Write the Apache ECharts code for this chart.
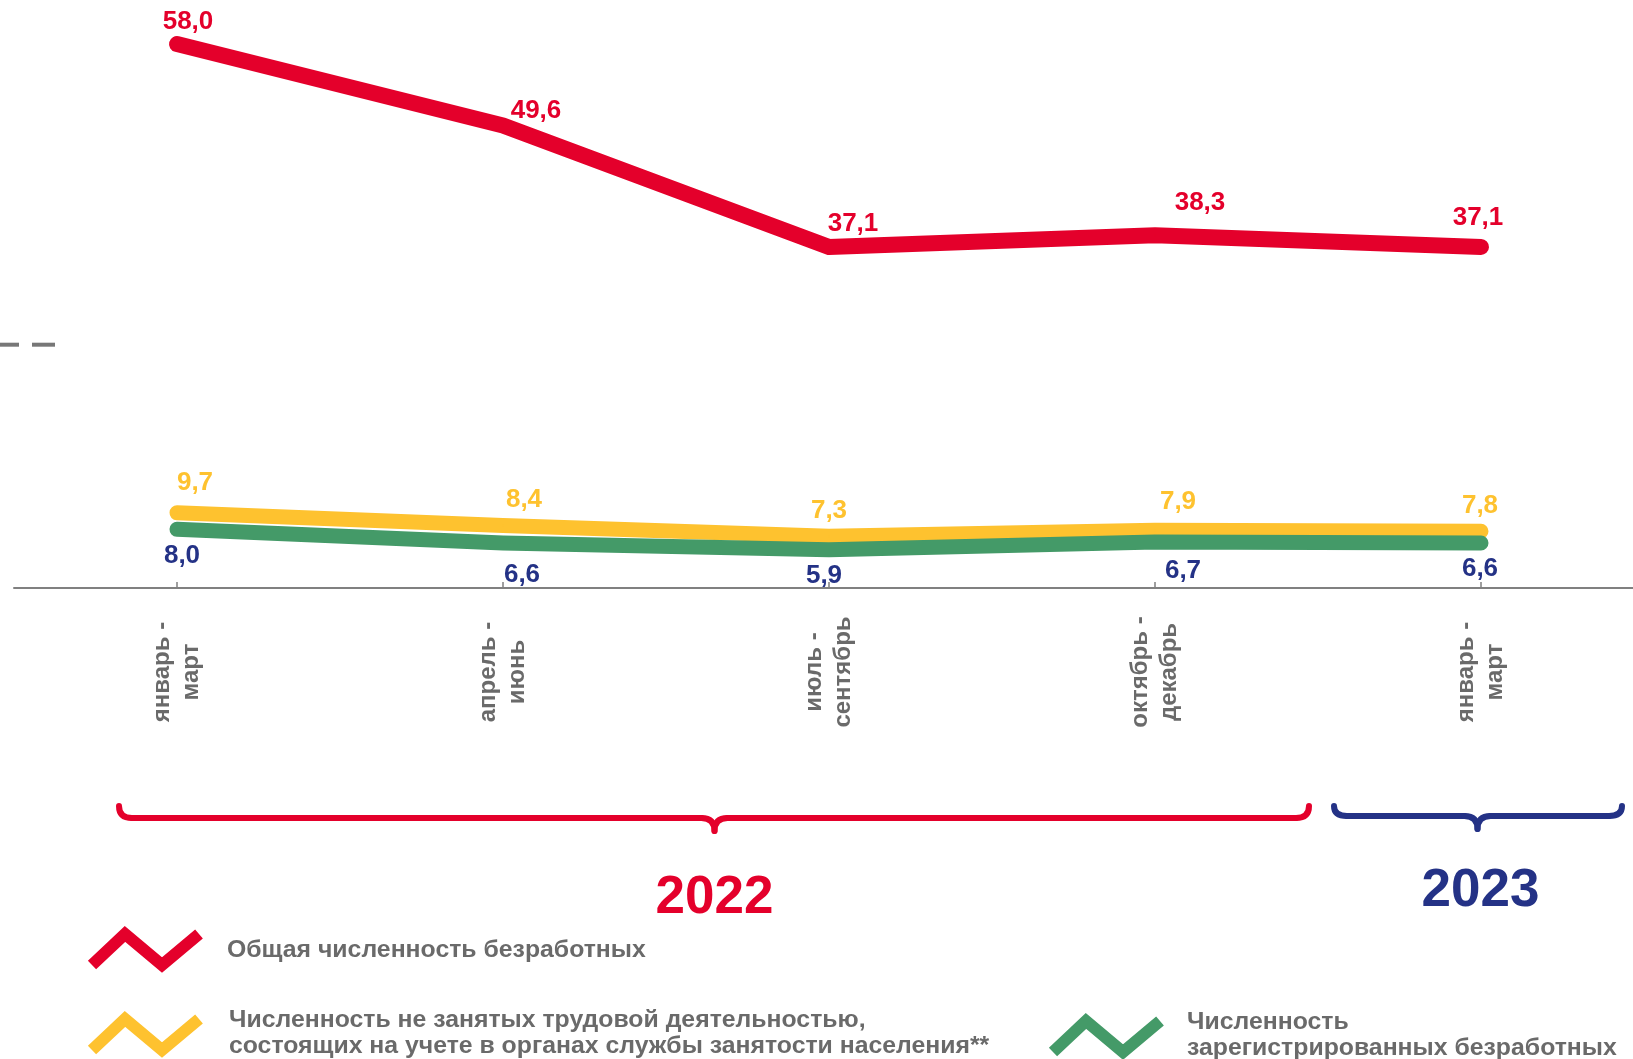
<!DOCTYPE html>
<html>
<head>
<meta charset="utf-8">
<script src="https://cdn.jsdelivr.net/npm/echarts@6/dist/echarts.min.js"></script>
<style>
html,body{margin:0;padding:0;background:#fff;}
#chart{width:1633px;height:1059px;}
</style>
</head>
<body>
<div id="chart"></div>
<script>
// ---- data ----
const categories = ['январь -\nмарт', 'апрель -\nиюнь', 'июль -\nсентябрь', 'октябрь -\nдекабрь', 'январь -\nмарт'];
const totalUnemployed = [58.0, 49.6, 37.1, 38.3, 37.1];
const notEmployedRegistered = [9.7, 8.4, 7.3, 7.9, 7.8];
const registeredUnemployed = [8.0, 6.6, 5.9, 6.7, 6.6];
const periodLabels = ['2022', '2023'];
const seriesNames = [
  'Общая численность безработных',
  'Численность не занятых трудовой деятельностью,\nсостоящих на учете в органах службы занятости населения**',
  'Численность\nзарегистрированных безработных'
];

const RED = '#E4002B', YEL = '#FEC22F', GRN = '#449A68', NAVY = '#243286', GRAY = '#6A6A6A';
const FONT = '"Liberation Sans", Arial, sans-serif';

function fmt(p) { return p.value.toFixed(1).replace('.', ','); }

function withOffsets(values, offsets) {
  return values.map((v, i) => ({ value: v, label: { offset: offsets[i] } }));
}

function lineSeries(name, values, color, labelColor, offsets, width) {
  return {
    type: 'line', name: name,
    data: withOffsets(values, offsets),
    symbol: 'circle', symbolSize: 2, showSymbol: true,
    itemStyle: { color: color },
    lineStyle: { color: color, width: width, cap: 'round', join: 'round' },
    label: {
      show: true, position: 'inside', formatter: fmt,
      color: labelColor, fontFamily: FONT, fontWeight: 'bold', fontSize: 26
    },
    emphasis: { disabled: true },
    animation: false
  };
}

function legendIcon(x, y, color) {
  return {
    type: 'polyline',
    shape: { points: [[x + 4, y + 38], [x + 37, y + 7], [x + 74, y + 38], [x + 111, y + 7]] },
    style: { stroke: color, lineWidth: 12, fill: null, lineJoin: 'miter', lineCap: 'butt' }
  };
}

function legendText(x, y, text) {
  return {
    type: 'text',
    style: { x: x, y: y, text: text, fill: GRAY, font: 'bold 24.8px ' + FONT, lineHeight: 26,
             textAlign: 'left', textVerticalAlign: 'top' }
  };
}

function brace(xL, xT, xR, yTop, yH, yTip, color) {
  const r = 13, st = { stroke: color, lineWidth: 6, fill: null, lineCap: 'round' };
  return {
    type: 'group',
    children: [
      { type: 'bezierCurve', shape: { x1: xL, y1: yTop, cpx1: xL, cpy1: yH, x2: xL + r, y2: yH }, style: st },
      { type: 'line', shape: { x1: xL + r, y1: yH, x2: xT - r, y2: yH }, style: st },
      { type: 'bezierCurve', shape: { x1: xT - r, y1: yH, cpx1: xT, cpy1: yH, x2: xT, y2: yTip }, style: st },
      { type: 'bezierCurve', shape: { x1: xT, y1: yTip, cpx1: xT, cpy1: yH, x2: xT + r, y2: yH }, style: st },
      { type: 'line', shape: { x1: xT + r, y1: yH, x2: xR - r, y2: yH }, style: st },
      { type: 'bezierCurve', shape: { x1: xR - r, y1: yH, cpx1: xR, cpy1: yH, x2: xR, y2: yTop }, style: st }
    ]
  };
}

const chart = echarts.init(document.getElementById('chart'), null, { renderer: 'canvas' });

const option = {
  backgroundColor: '#fff',
  animation: false,
  grid: { left: 14, width: 1630, top: 24.6, height: 582.4, containLabel: false, outerBoundsMode: 'none' },
  xAxis: {
    type: 'category', data: categories, boundaryGap: true, offset: -19,
    axisLine: { show: true, lineStyle: { color: '#808080', width: 2 } },
    axisTick: { show: true, inside: true, alignWithLabel: true, length: 6, lineStyle: { color: '#808080', width: 1.5 } },
    axisLabel: {
      rotate: 90, align: 'center', verticalAlign: 'middle', margin: 84,
      color: GRAY, fontFamily: FONT, fontWeight: 'bold', fontSize: 24, lineHeight: 29,
      interval: 0
    },
    splitLine: { show: false }
  },
  yAxis: {
    type: 'value', min: 0, max: 60, show: false,
    splitLine: { show: false }
  },
  series: [
    lineSeries(seriesNames[0], totalUnemployed, RED, RED,
      [[11, -22], [33, -15], [24, -23], [45, -32], [-3, -29]], 16),
    lineSeries(seriesNames[1], notEmployedRegistered, YEL, YEL,
      [[18, -30], [21, -26], [0, -25], [23, -28], [-1, -25]], 15),
    lineSeries(seriesNames[2], registeredUnemployed, GRN, NAVY,
      [[5, 26], [19, 32], [-5, 26], [28, 29], [-1, 26]], 15)
  ],
  graphic: [
    { type: 'line', shape: { x1: 0, y1: 344.7, x2: 19, y2: 344.7 }, style: { stroke: '#777', lineWidth: 4 } },
    { type: 'line', shape: { x1: 32, y1: 344.7, x2: 55, y2: 344.7 }, style: { stroke: '#777', lineWidth: 4 } },
    brace(119, 714.5, 1309, 806, 818, 831, RED),
    brace(1334, 1477.5, 1622, 806, 816, 829, NAVY),
    { type: 'text', style: { x: 714.5, y: 898, text: periodLabels[0], fill: RED, font: 'bold 53px ' + FONT, textAlign: 'center', textVerticalAlign: 'middle' } },
    { type: 'text', style: { x: 1480.5, y: 891, text: periodLabels[1], fill: NAVY, font: 'bold 53px ' + FONT, textAlign: 'center', textVerticalAlign: 'middle' } },
    legendIcon(88, 927, RED),
    legendText(227, 937, seriesNames[0]),
    legendIcon(88, 1012, YEL),
    legendText(229, 1007, seriesNames[1]),
    legendIcon(1049, 1014, GRN),
    legendText(1187, 1009, seriesNames[2])
  ]
};
chart.setOption(option);
</script>
</body>
</html>
